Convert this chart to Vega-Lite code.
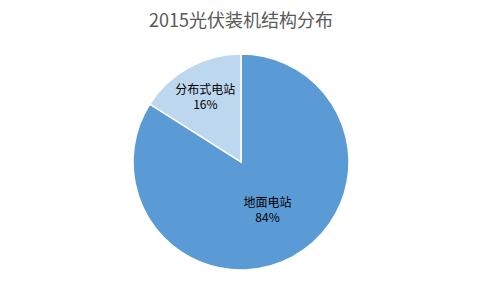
{
  "$schema": "https://vega.github.io/schema/vega-lite/v6.json",
  "width": 482,
  "height": 290,
  "autosize": {"type": "fit", "contains": "padding"},
  "padding": {"top": 13, "bottom": 10, "left": 0, "right": 0},
  "background": "white",
  "title": {
    "text": "2015光伏装机结构分布",
    "font": "Noto Sans CJK SC",
    "fontSize": 18,
    "fontWeight": "normal",
    "color": "#595959",
    "anchor": "middle",
    "offset": 13
  },
  "data": {
    "values": [
      {"type": "地面电站", "value": 84, "pct": "84%"},
      {"type": "分布式电站", "value": 16, "pct": "16%"}
    ]
  },
  "encoding": {
    "theta": {"field": "value", "type": "quantitative", "stack": true},
    "order": {"field": "value", "type": "quantitative", "sort": "descending"}
  },
  "layer": [
    {
      "mark": {"type": "arc", "outerRadius": 108, "stroke": "white", "strokeWidth": 1.5},
      "encoding": {
        "color": {
          "field": "type",
          "type": "nominal",
          "scale": {"domain": ["地面电站", "分布式电站"], "range": ["#5B9BD5", "#BDD7EE"]},
          "legend": null
        }
      }
    },
    {
      "mark": {"type": "text", "font": "Noto Sans CJK SC", "fontSize": 12, "color": "black", "align": "center", "baseline": "middle", "radius": 55, "dy": -7.5},
      "encoding": {
        "text": {"condition": {"test": "datum.type === '地面电站'", "field": "type"}, "value": ""}
      }
    },
    {
      "mark": {"type": "text", "font": "Noto Sans CJK SC", "fontSize": 12, "color": "black", "align": "center", "baseline": "middle", "radius": 55, "dy": 7.5},
      "encoding": {
        "text": {"condition": {"test": "datum.type === '地面电站'", "field": "pct"}, "value": ""}
      }
    },
    {
      "mark": {"type": "text", "font": "Noto Sans CJK SC", "fontSize": 12, "color": "black", "align": "center", "baseline": "middle", "radius": 74, "dy": -7.5},
      "encoding": {
        "text": {"condition": {"test": "datum.type === '分布式电站'", "field": "type"}, "value": ""}
      }
    },
    {
      "mark": {"type": "text", "font": "Noto Sans CJK SC", "fontSize": 12, "color": "black", "align": "center", "baseline": "middle", "radius": 74, "dy": 7.5},
      "encoding": {
        "text": {"condition": {"test": "datum.type === '分布式电站'", "field": "pct"}, "value": ""}
      }
    }
  ],
  "config": {"view": {"stroke": null}}
}
